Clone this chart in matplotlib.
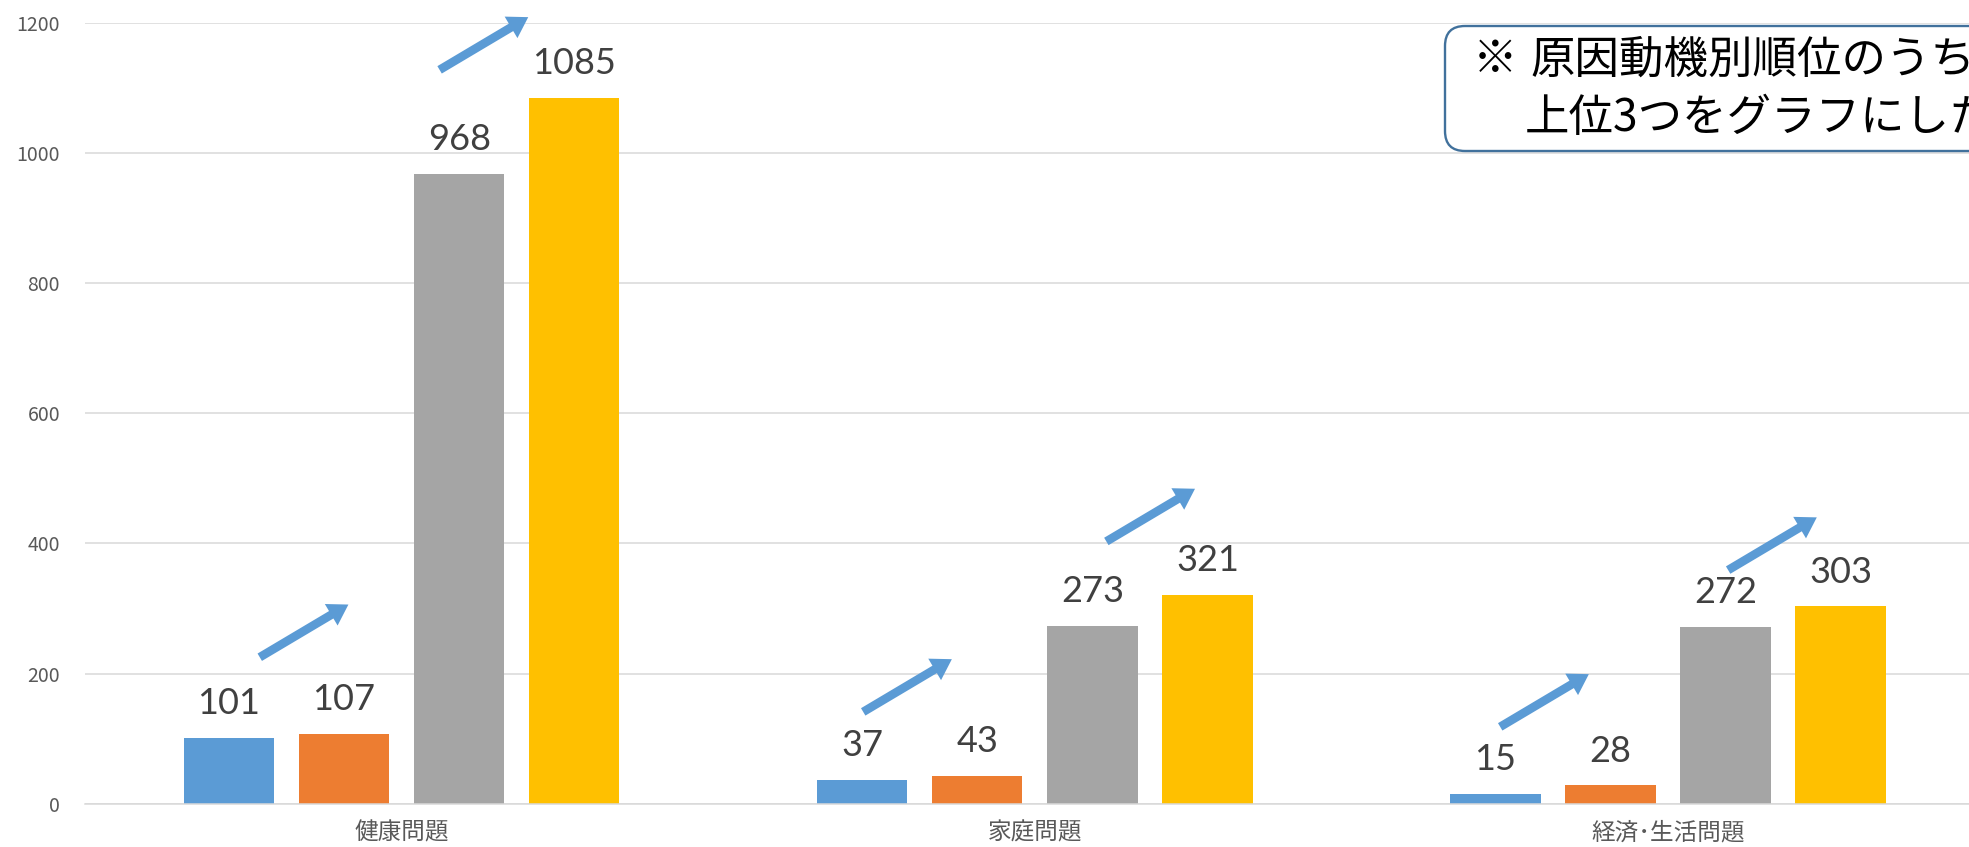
#Bar chart of the top 3 motive categories, with up arrows between pairs
import matplotlib.pyplot as plt
from matplotlib.patches import FancyArrowPatch, FancyBboxPatch, ArrowStyle
import numpy as np

plt.rcParams['font.family'] = ['Noto Sans CJK JP', 'DejaVu Sans']

categories = ['健康問題', '家庭問題', '経済･生活問題']
series1 = [101, 37, 15]
series2 = [107, 43, 28]
series3 = [968, 273, 272]
series4 = [1085, 321, 303]
yticks = [0, 200, 400, 600, 800, 1000, 1200]

colors = ['#5B9BD5', '#ED7D31', '#A5A5A5', '#FFC000']

#arrow tails: (category, x offset from category centre, y value)
arrow_tails = [(0, -0.224, 225), (0, 0.060, 1128),
               (1, -0.271, 141), (1, 0.113, 403),
               (2, -0.265, 118), (2, 0.095, 359)]
arrow_dx, arrow_dy = 0.14, 81

fig = plt.figure(figsize=(19.69, 8.47), dpi=100)
ax = fig.add_axes([85/1969, 43.4/847, 1899.6/1969, 780.6/847])

x = np.arange(len(categories))
step = 0.1818
width = 0.1428
all_series = [series1, series2, series3, series4]
for k, (vals, c) in enumerate(zip(all_series, colors)):
    xs = x + (k - 1.5) * step
    ax.bar(xs, vals, width=width, color=c, zorder=2)
    for xi, v in zip(xs, vals):
        ax.annotate(str(v), (xi, v), xytext=(0, 17), textcoords='offset points',
                    ha='center', va='baseline', fontsize=26, color='#404040',
                    family=['Lato', 'DejaVu Sans'])

#blue arrows showing the increase
for cat, off, y0 in arrow_tails:
    x0 = cat + off
    arr = FancyArrowPatch((x0, y0), (x0 + arrow_dx, y0 + arrow_dy),
                          arrowstyle=ArrowStyle.Simple(head_length=0.72, head_width=0.9, tail_width=0.31),
                          mutation_scale=20, color='#5B9BD5', lw=0,
                          shrinkA=0, shrinkB=0, zorder=4, clip_on=False)
    ax.add_patch(arr)

ax.set_xlim(-0.5, 2.5)
ax.set_ylim(0, 1200)
ax.set_yticks(yticks)
ax.set_xticks(x)
ax.set_xticklabels(categories)
ax.yaxis.grid(True, color='#D9D9D9', lw=1.1, zorder=0)
ax.set_axisbelow(True)
for s in ['top', 'right', 'left']:
    ax.spines[s].set_visible(False)
ax.spines['bottom'].set_color('#D9D9D9')
ax.spines['bottom'].set_linewidth(1.1)
ax.tick_params(axis='y', length=0, pad=18, labelsize=14, labelcolor='#595959')
ax.tick_params(axis='x', length=0, pad=13, labelsize=17, labelcolor='#595959')

#note box in the upper right (cut off by the figure edge like the original)
box = FancyBboxPatch((14.45, 6.96), 6.5, 1.25, boxstyle='round,pad=0,rounding_size=0.2',
                     transform=fig.dpi_scale_trans, facecolor='white',
                     edgecolor='#41719C', lw=1.7, zorder=5)
fig.patches.append(box)
fig.text(14.73, 7.87, '※', transform=fig.dpi_scale_trans, fontsize=32,
         va='center', ha='left', color='black', zorder=6)
fig.text(15.30, 7.87, '原因動機別順位のうち', transform=fig.dpi_scale_trans, fontsize=32,
         va='center', ha='left', color='black', zorder=6)
fig.text(15.25, 7.295, '上位3つをグラフにしたもの', transform=fig.dpi_scale_trans, fontsize=32,
         va='center', ha='left', color='black', zorder=6)

fig.savefig('out.png', dpi=100)
